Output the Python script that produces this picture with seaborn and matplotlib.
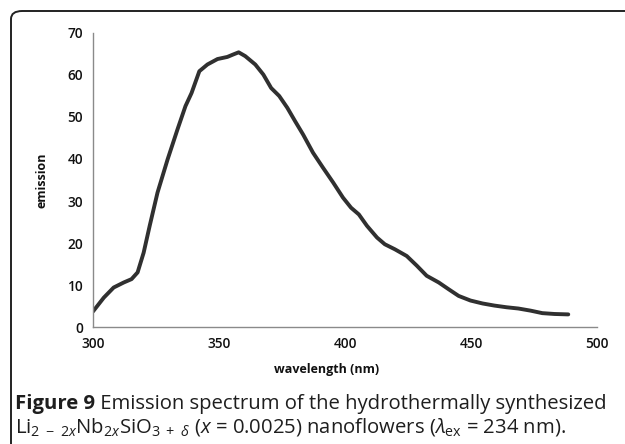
import numpy as np
import pandas as pd
import seaborn as sns
import matplotlib.pyplot as plt
from matplotlib.patches import FancyBboxPatch

# emission spectrum
wavelength = [300.0, 304.3, 308.2, 312.2, 315.3, 317.7, 320.1, 322.5, 325.6, 329.6,
              333.5, 336.7, 339.1, 342.2, 345.4, 349.4, 353.3, 355.7, 357.8, 360.4,
              364.4, 367.6, 370.7, 373.9, 377.1, 380.2, 383.4, 387.3, 391.3, 395.3,
              399.2, 402.4, 405.5, 408.7, 412.7, 415.8, 419.8, 424.5, 428.5, 432.4,
              437.2, 441.1, 445.1, 449.8, 454.6, 459.3, 464.1, 468.8, 473.6, 478.3,
              483.1, 488.6]
emission = [3.7, 7.0, 9.4, 10.6, 11.4, 13.0, 17.7, 24.1, 32.0, 39.9,
            47.0, 52.6, 55.7, 60.9, 62.5, 63.8, 64.3, 64.9, 65.4, 64.5,
            62.5, 60.1, 56.9, 55.0, 52.2, 49.0, 45.8, 41.5, 37.9, 34.4,
            30.8, 28.4, 26.8, 24.1, 21.3, 19.7, 18.5, 16.9, 14.6, 12.2,
            10.6, 9.0, 7.4, 6.3, 5.6, 5.1, 4.7, 4.4, 3.9, 3.3,
            3.1, 3.0]
x_ticks = [300, 350, 400, 450, 500]
y_ticks = [0, 10, 20, 30, 40, 50, 60, 70]

df = pd.DataFrame({'wavelength': wavelength, 'emission': emission})

sns.set_style('white')
plt.rcParams['font.family'] = ['Open Sans', 'DejaVu Sans']
plt.rcParams['mathtext.fontset'] = 'custom'
plt.rcParams['mathtext.rm'] = 'Open Sans'
plt.rcParams['mathtext.it'] = 'Open Sans:italic'
plt.rcParams['mathtext.bf'] = 'Open Sans:bold'

W, H = 625, 444
fig = plt.figure(figsize=(W / 100, H / 100), dpi=100)
ax = fig.add_axes([93 / W, 1 - 327 / H, (597 - 93) / W, (327 - 33) / H])

sns.lineplot(data=df, x='wavelength', y='emission', ax=ax, color='#303030', linewidth=2.8)

ax.set_xlim(300, 500)
ax.set_ylim(0, 70)
ax.set_xticks(x_ticks)
ax.set_yticks(y_ticks)
ax.set_xlabel('')
ax.set_ylabel('')
sns.despine(ax=ax)
for s in ['left', 'bottom']:
    ax.spines[s].set_color('#8a8a8a')
    ax.spines[s].set_linewidth(1.0)
ax.tick_params(axis='both', direction='out', length=4, width=1, color='#8a8a8a',
               labelsize=9.8, labelcolor='#111111', pad=3)
for lbl in ax.get_xticklabels() + ax.get_yticklabels():
    lbl.set_fontweight('semibold')

fig.text(327 / W, 1 - 369 / H, 'wavelength (nm)', ha='center', va='center',
         fontsize=9, fontweight='bold', color='#111111')
fig.text(42 / W, 1 - 180 / H, 'emission', ha='center', va='center', rotation=90,
         fontsize=9, fontweight='bold', color='#111111')

# rounded frame around the figure, open to the right and bottom
frame = FancyBboxPatch((11 / W, -0.2), 1.2, 1.2 - 11 / H,
                       boxstyle='round,pad=0,rounding_size=0.018',
                       transform=fig.transFigure, fill=False,
                       edgecolor='#222222', linewidth=1.4, clip_on=False)
fig.patches.append(frame)

# caption
cap_size = 14.6
renderer = fig.canvas.get_renderer()
t1 = fig.text(15 / W, 1 - 409 / H, 'Figure 9', fontsize=cap_size, fontweight='bold',
              color='#1e1e1e', va='baseline', ha='left')
bb = t1.get_window_extent(renderer=renderer).transformed(fig.transFigure.inverted())
fig.text(bb.x1, 1 - 409 / H, ' Emission spectrum of the hydrothermally synthesized',
         fontsize=cap_size, color='#1e1e1e', va='baseline', ha='left')
fig.text(15 / W, 1 - 432 / H,
         r'Li$_{2\ -\ 2x}$Nb$_{2x}$SiO$_{3\ +\ \delta}$ ($x$ = 0.0025) nanoflowers ($\lambda_{\rm ex}$ = 234 nm).',
         fontsize=cap_size, color='#1e1e1e', va='baseline', ha='left')

fig.savefig('out.png', dpi=100)
